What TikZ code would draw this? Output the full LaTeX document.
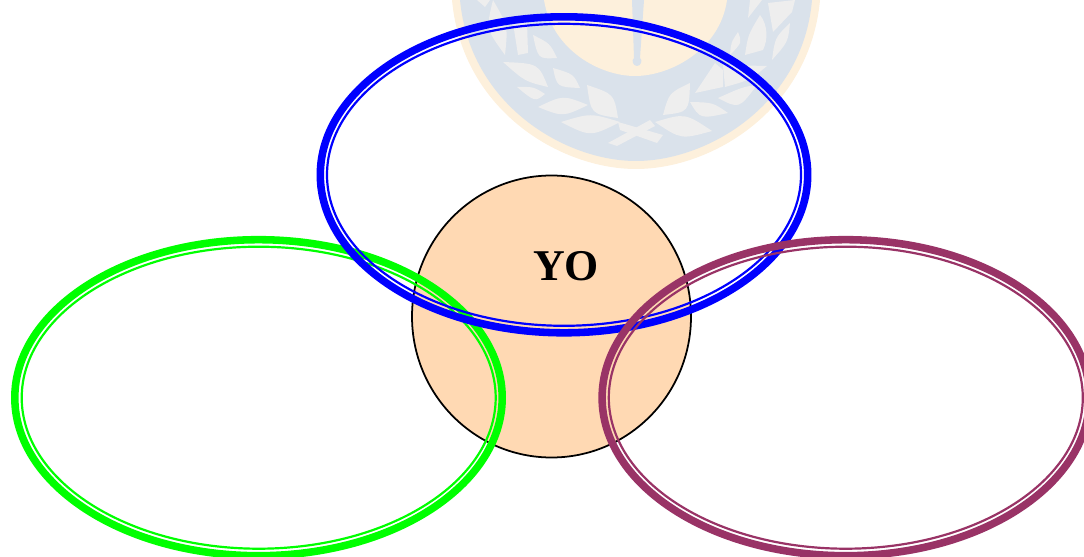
\documentclass[tikz,border=0pt]{standalone}
\usepackage{fontspec}
\setmainfont{Liberation Serif}
\definecolor{peach}{HTML}{FFD9B3}
\definecolor{plum}{HTML}{993366}
\definecolor{crestcream}{HTML}{FDF0DC}
\definecolor{crestblue}{HTML}{DAE2EB}
\definecolor{crestgrey}{HTML}{EEEEEE}
\tikzset{
  band/.style={line width=4.3pt},
  thinline/.style={line width=1.25pt},
  leaf/.style={fill=crestgrey}
}
% one laurel leaf: tip, tip, then the two bends
\newcommand{\crestleaf}[4]{\fill[leaf] (#1) .. controls (#3) .. (#2) .. controls (#4) .. (#1);}
\begin{document}
\begin{tikzpicture}[x=0.02cm,y=-0.02cm]
\useasboundingbox (0,0) rectangle (1084,557);

% crest behind everything
\begin{scope}
\clip (0,0) rectangle (1084,557);
\fill[crestcream] (452,0) .. controls (462,110) and (560,169) .. (636,169) .. controls (712,169) and (810,110) .. (820,0) -- cycle;
\fill[crestblue] (460,0) .. controls (470,105) and (565,161) .. (636,161) .. controls (707,161) and (803,105) .. (812,0) -- cycle;
\fill[crestcream] (544,0) .. controls (552,50) and (600,76) .. (635,76) .. controls (670,76) and (720,50) .. (727,0) -- cycle;
\fill[crestblue] (632,0) -- (634,58) .. controls (631,60) and (633,66) .. (637,66) .. controls (641,66) and (643,60) .. (640,58) -- (644,0) -- cycle;
% left branch
\crestleaf{503,62}{548,87}{538.5,63.5}{525,81.5}
\crestleaf{553,68}{580,88}{573.5,74}{557,87}
\crestleaf{517,87}{545,94}{533.7,86.8}{535,102}
\crestleaf{538,107}{588,105}{563,95}{563,117}
\crestleaf{587,85}{618,118}{614,94}{591,114}
\crestleaf{561,122}{620,122}{590.5,113}{590.5,137}
\crestleaf{493,0}{505,55}{508,26}{486,29}
\fill[leaf] (477,0) -- (485,7) -- (490,0) -- cycle;
\fill[leaf] (513,23) -- (527,23) -- (528,53) -- (518,55) -- cycle;
\crestleaf{533,35}{557,58}{550,43.5}{538,59}
% right branch
\crestleaf{663,115}{690,83}{669,93}{689,112}
\crestleaf{655,122}{712,131}{685,113}{681,139.5}
\crestleaf{690,102}{728,113}{713,102.5}{700,119}
\crestleaf{718,98}{757,85}{742.5,87}{739,109}
\fill[leaf] (695,93) -- (715,63) -- (723,70) -- (723,87) -- cycle;
\fill[leaf] (723,65) -- (767,66) .. controls (750,80) .. (725,87) -- cycle;
\crestleaf{730,55}{738,32}{731,42.5}{742,42.5}
\fill[leaf] (745,55) .. controls (748,35) .. (760,15) .. controls (768,25) and (768,40) .. (763,50) -- cycle;
\crestleaf{772,60}{790,23}{775,37.5}{788,42}
\fill[leaf] (748,18) -- (750,0) -- (762,0) -- cycle;
\fill[leaf] (768,3) -- (773,32) -- (792,12) -- (795,0) -- cycle;
% crossed stems
\fill[leaf] (608,143) -- (617,146) -- (655,126) -- (650,120) -- cycle;
\fill[leaf] (618,122) -- (663,135) -- (657,143) -- (620,130) -- cycle;
\end{scope}

\draw[fill=peach, line width=1pt] (551.5,316.5) ellipse [x radius=139.5, y radius=141];
\node[font=\fontsize{25}{28}\selectfont\bfseries] (yo) at (566,266) {YO};

% green
\draw[green, band] (258.5,397.7) ellipse [x radius=243.7, y radius=158];
\draw[green, thinline] (258.7,397.7) ellipse [x radius=237, y radius=151];

% blue
\draw[blue, band] (564,174.8) ellipse [x radius=243.7, y radius=158];
\draw[blue, thinline] (564,174.8) ellipse [x radius=237, y radius=151];

% purple
\draw[plum, band] (845.8,397.7) ellipse [x radius=243.7, y radius=158];
\draw[plum, thinline] (845.8,397.7) ellipse [x radius=237, y radius=151];

\end{tikzpicture}
\end{document}
